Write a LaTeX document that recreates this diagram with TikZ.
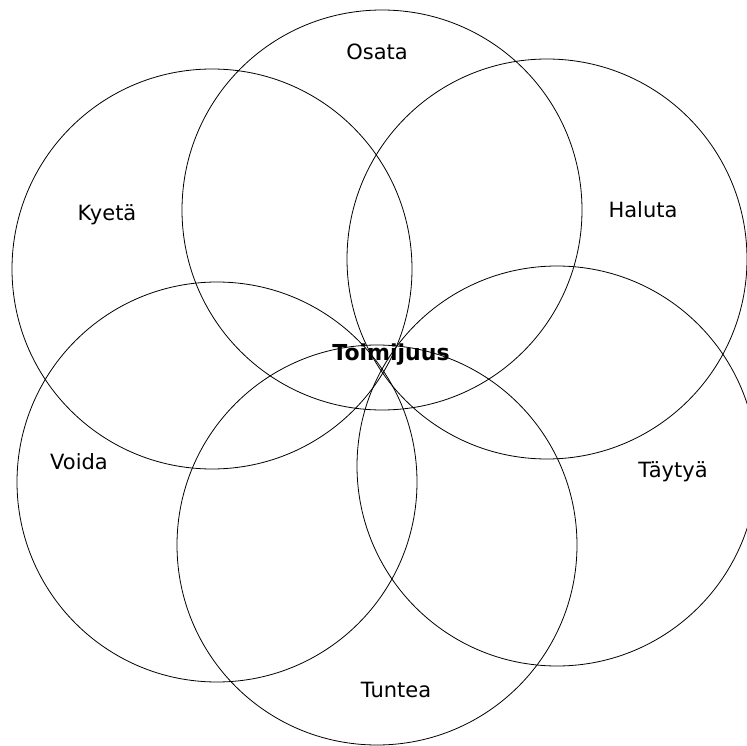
\documentclass[tikz,border=0pt]{standalone}
\usepackage{fontspec}
\setmainfont{DejaVu Sans}
\begin{document}
\begin{tikzpicture}[x=1pt,y=-1pt,
  ring/.style={draw=black,line width=0.8pt,circle,minimum size=400pt,inner sep=0pt},
  lab/.style={font=\fontsize{21}{24}\selectfont,inner sep=0pt}]
\useasboundingbox (0,0) rectangle (747,746);
\node[ring] (osata) at (382,210) {};
\node[ring] (kyeta) at (212,269) {};
\node[ring] (haluta) at (547,259) {};
\node[ring] (voida) at (217,482) {};
\node[ring] (tuntea) at (377,545) {};
\node[ring] (taytya) at (557,466) {};
\node[lab] (tosata) at (377,52) {Osata};
\node[lab] (tkyeta) at (107,215) {Kyetä};
\node[lab] (thaluta) at (643,210) {Haluta};
\node[lab] (tvoida) at (79,462) {Voida};
\node[lab] (ttaytya) at (673,472) {Täytyä};
\node[lab] (ttuntea) at (396,690) {Tuntea};
\node[lab,font=\fontsize{22}{25}\selectfont\bfseries] (toimi) at (391,355) {Toimijuus};
\end{tikzpicture}
\end{document}
